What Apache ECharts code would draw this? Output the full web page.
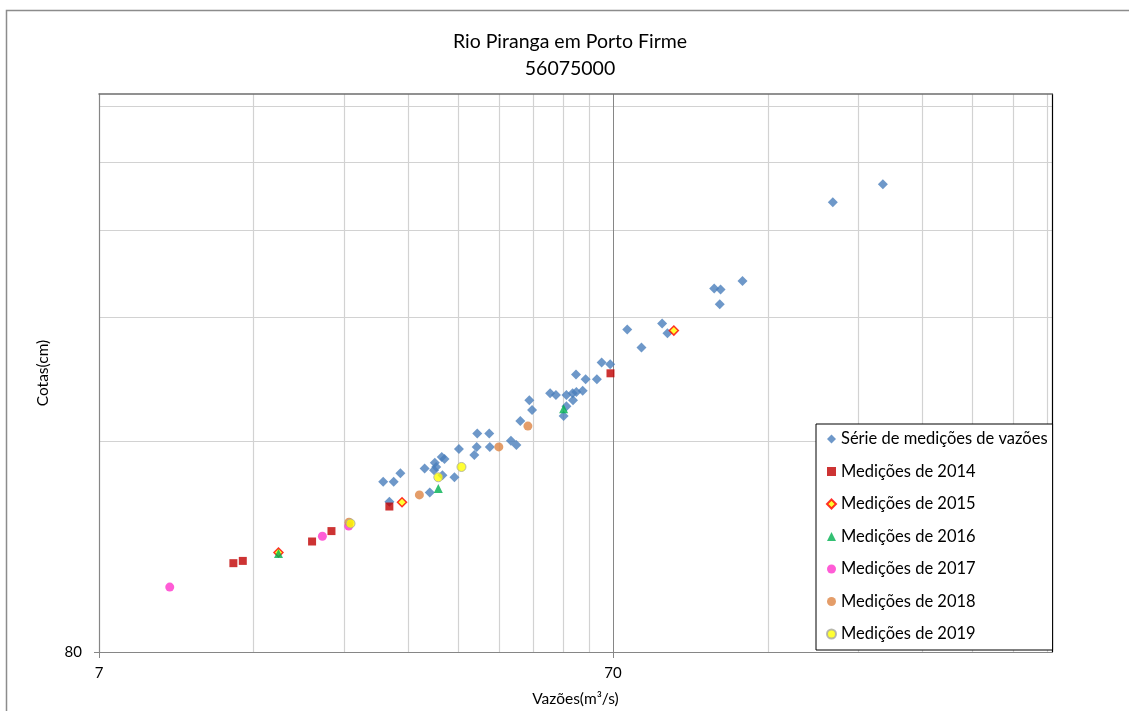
<!DOCTYPE html>
<html>
<head>
<meta charset="utf-8">
<script src="https://cdn.jsdelivr.net/npm/echarts@6/dist/echarts.min.js"></script>
<style>
html,body{margin:0;padding:0;background:#fff;}
#chart{width:1129px;height:711px;}
</style>
</head>
<body>
<div id="chart"></div>
<script>
// ---- Data (vazão m³/s, cota cm) ----
const serieMedicoes = [
  [234.4,371.8],[187.3,350.3],[125.0,270.6],[110.1,263.9],[113.3,263.1],[112.9,250.6],
  [87.2,235.4],[74.6,230.7],[89.3,227.9],[79.5,217.4],[66.5,207.0],[69.1,205.8],
  [59.3,199.0],[61.9,195.9],[65.1,195.9],[52.8,187.1],[54.2,186.1],[56.8,186.1],
  [58.4,187.1],[59.4,187.9],[61.1,188.6],[58.5,182.9],[48.1,182.9],[48.7,177.1],
  [56.8,179.3],[56.1,173.7],[46.2,170.9],[44.3,160.1],[45.4,157.9],[38.1,163.9],
  [40.2,163.9],[40.3,156.9],[38.0,156.9],[37.6,152.8],[35.1,155.8],[32.5,151.8],
  [32.9,150.8],[31.5,149.0],[31.7,146.9],[31.4,145.3],[30.1,146.1],[32.6,143.0],
  [34.4,142.0],[30.8,135.1],[27.0,143.9],[25.0,139.9],[26.2,139.9],[25.7,131.0]
];
const medicoes2014 = [[12.78,107.1],[13.33,107.9],[18.18,115.0],[19.83,119.0],[25.7,129.0],[69.2,199.8]];
const medicoes2015 = [[15.64,110.9],[27.2,130.8],[91.9,229.9]];
const medicoes2016 = [[15.64,110.6],[32.0,136.9],[56.1,177.8]];
const medicoes2017 = [[9.61,99.0],[19.04,117.0],[21.42,121.0]];
const medicoes2018 = [[21.45,122.5],[29.4,134.0],[41.96,156.9],[47.8,168.0]];
const medicoes2019 = [[21.6,122.0],[32.0,142.0],[35.5,146.9]];

const seriesNames = ['Série de medições de vazões','Medições de 2014','Medições de 2015','Medições de 2016','Medições de 2017','Medições de 2018','Medições de 2019'];

// ---- Axis ticks ----
const xMajorTicks = [7, 70];
const xMinorTicks = [14,21,28,35,42,49,56,63,140,210,280,350,420,490];
const yMajorTicks = [80];
const yMinorTicks = [160,240,320,400,480];

const FONT = 'Lato, "Open Sans", sans-serif';

const chart = echarts.init(document.getElementById('chart'), null, {renderer:'canvas'});

const option = {
  animation: false,
  backgroundColor: '#ffffff',
  graphic: [
    {type:'rect', silent:true, z:-10,
      shape:{x:6.5, y:10.5, width:1135, height:720},
      style:{fill:null, stroke:'#8c8c8c', lineWidth:1.5}},
    {type:'text', silent:true,
      style:{x:570, y:28, text:'Rio Piranga em Porto Firme\n56075000', textAlign:'center',
        fill:'#000', font:'19.5px ' + FONT, lineHeight:27}}
  ],
  grid: {left:99, top:94, right:77, bottom:59, containLabel:false, outerBoundsMode:'none'},
  legend: {
    orient:'vertical', left:816, top:424,
    padding:[5,5,6,10], itemGap:12.5, itemWidth:9, itemHeight:9,
    backgroundColor:'#fff', borderColor:'#000', borderWidth:1,
    textStyle:{fontFamily:FONT, fontSize:16.5, color:'#000', lineHeight:20},
    data: seriesNames
  },
  xAxis: [
    {type:'log', logBase:10, min:7, max:500, position:'bottom',
      name:'Vazões(m³/s)', nameLocation:'middle', nameGap:39,
      nameTextStyle:{fontFamily:FONT, fontSize:15.5, color:'#000'},
      axisLine:{show:true, lineStyle:{color:'#868686', width:1.2}},
      axisTick:{show:true, length:6, customValues:xMajorTicks, lineStyle:{color:'#868686'}},
      axisLabel:{customValues:xMajorTicks, margin:14, fontFamily:FONT, fontSize:15, color:'#000'},
      splitLine:{show:true, lineStyle:{color:'#868686', width:1}},
      minorTick:{show:false}, minorSplitLine:{show:false}
    },
    {type:'log', logBase:10, min:7, max:500, position:'top',
      axisLine:{show:true, lineStyle:{color:'#6e6e6e', width:1.5}},
      axisTick:{show:false, customValues:xMinorTicks},
      axisLabel:{show:false, customValues:xMinorTicks},
      splitLine:{show:true, lineStyle:{color:'#d2d2d2', width:1.2}}
    }
  ],
  yAxis: [
    {type:'log', logBase:10, min:80, max:500, position:'left',
      name:'Cotas(cm)', nameLocation:'middle', nameGap:48,
      nameTextStyle:{fontFamily:FONT, fontSize:15.5, color:'#000'},
      axisLine:{show:true, lineStyle:{color:'#868686', width:1.2}},
      axisTick:{show:true, length:5, customValues:yMajorTicks, lineStyle:{color:'#868686'}},
      axisLabel:{customValues:yMajorTicks, margin:17, fontFamily:FONT, fontSize:15, color:'#000'},
      splitLine:{show:false}
    },
    {type:'log', logBase:10, min:80, max:500, position:'right',
      axisLine:{show:true, lineStyle:{color:'#000', width:1.2}},
      axisTick:{show:false, customValues:yMinorTicks},
      axisLabel:{show:false, customValues:yMinorTicks},
      splitLine:{show:true, lineStyle:{color:'#d2d2d2', width:1.2}}
    }
  ],
  series: [
    {name:seriesNames[0], type:'scatter', xAxisIndex:0, yAxisIndex:0, data:serieMedicoes,
      symbol:'diamond', symbolSize:10, itemStyle:{color:'#4a7ebb'}},
    {name:seriesNames[1], type:'scatter', xAxisIndex:0, yAxisIndex:0, data:medicoes2014,
      symbol:'rect', symbolSize:8, itemStyle:{color:'#c00000'}},
    {name:seriesNames[2], type:'scatter', xAxisIndex:0, yAxisIndex:0, data:medicoes2015,
      symbol:'diamond', symbolSize:9, itemStyle:{color:'#ffff00', borderColor:'#ff0000', borderWidth:1.5}},
    {name:seriesNames[3], type:'scatter', xAxisIndex:0, yAxisIndex:0, data:medicoes2016,
      symbol:'triangle', symbolSize:9, itemStyle:{color:'#00b050'}},
    {name:seriesNames[4], type:'scatter', xAxisIndex:0, yAxisIndex:0, data:medicoes2017,
      symbol:'circle', symbolSize:9, itemStyle:{color:'#ff33cc'}},
    {name:seriesNames[5], type:'scatter', xAxisIndex:0, yAxisIndex:0, data:medicoes2018,
      symbol:'circle', symbolSize:9, itemStyle:{color:'#dd8444'}},
    {name:seriesNames[6], type:'scatter', xAxisIndex:0, yAxisIndex:0, data:medicoes2019,
      symbol:'circle', symbolSize:9, itemStyle:{color:'#ffff00', borderColor:'#a6a6a6', borderWidth:1}}
  ]
};
chart.setOption(option);
</script>
</body>
</html>
